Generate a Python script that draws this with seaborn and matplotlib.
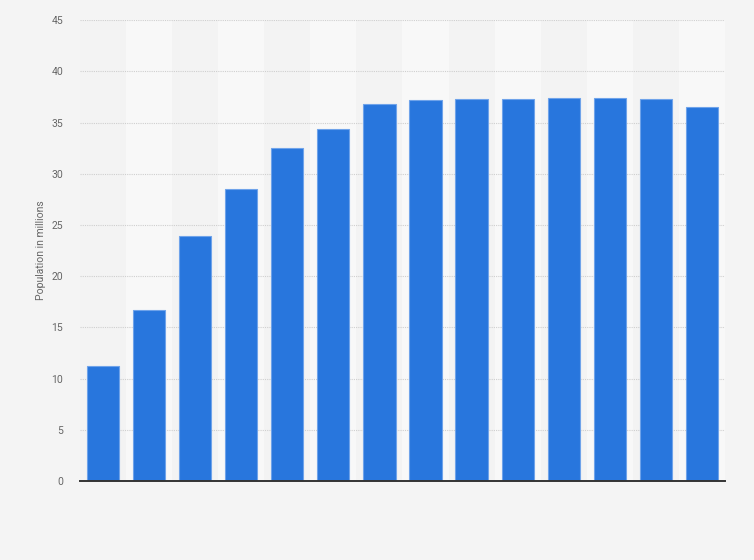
import numpy as np
import pandas as pd
import matplotlib
matplotlib.use('Agg')
import matplotlib.pyplot as plt
import seaborn as sns

# values (millions), no x labels shown in the chart
years = [str(y) for y in range(2010, 2024)]
population = [11.2, 16.7, 23.9, 28.5, 32.5, 34.4, 36.8, 37.2, 37.3, 37.3, 37.4, 37.4, 37.3, 36.5]
yticks = [0, 5, 10, 15, 20, 25, 30, 35, 40, 45]

sns.set_theme(style='white')
plt.rcParams['font.family'] = ['Roboto', 'DejaVu Sans']

df = pd.DataFrame({'year': years, 'population': population})

fig = plt.figure(figsize=(7.54, 5.6), dpi=100)
fig.patch.set_facecolor('#f4f4f4')
ax = fig.add_axes([0.106, 0.141, 0.8555, 0.823])
ax.set_facecolor('#f3f3f3')

# alternating column bands
for i in range(len(years)):
    if i % 2 == 1:
        ax.axvspan(i - 0.5, i + 0.5, color='#f8f8f8', zorder=0, lw=0)

sns.barplot(data=df, x='year', y='population', color='#2876dd', saturation=1,
            width=0.7, edgecolor='#6fa3ea', linewidth=0.8, ax=ax, zorder=3)

ax.set_xlim(-0.5, len(years) - 0.5)
ax.set_ylim(0, 45)
ax.set_yticks(yticks)
ax.set_yticklabels([str(t) for t in yticks], color='#666666', fontsize=7.5)
ax.set_xticks([])
ax.set_xlabel('')
ax.set_ylabel('Population in millions', color='#666666', fontsize=7.5, labelpad=4)
ax.tick_params(axis='y', length=0, pad=12)

ax.grid(axis='y', color='#cfcfcf', linestyle=(0, (1, 1)), linewidth=0.8, zorder=1)
ax.set_axisbelow(True)
for side in ['top', 'right', 'left']:
    ax.spines[side].set_visible(False)
ax.spines['bottom'].set_color('#333333')
ax.spines['bottom'].set_linewidth(1.4)
ax.spines['bottom'].set_zorder(5)

fig.savefig('out.png', dpi=100, facecolor=fig.get_facecolor())
